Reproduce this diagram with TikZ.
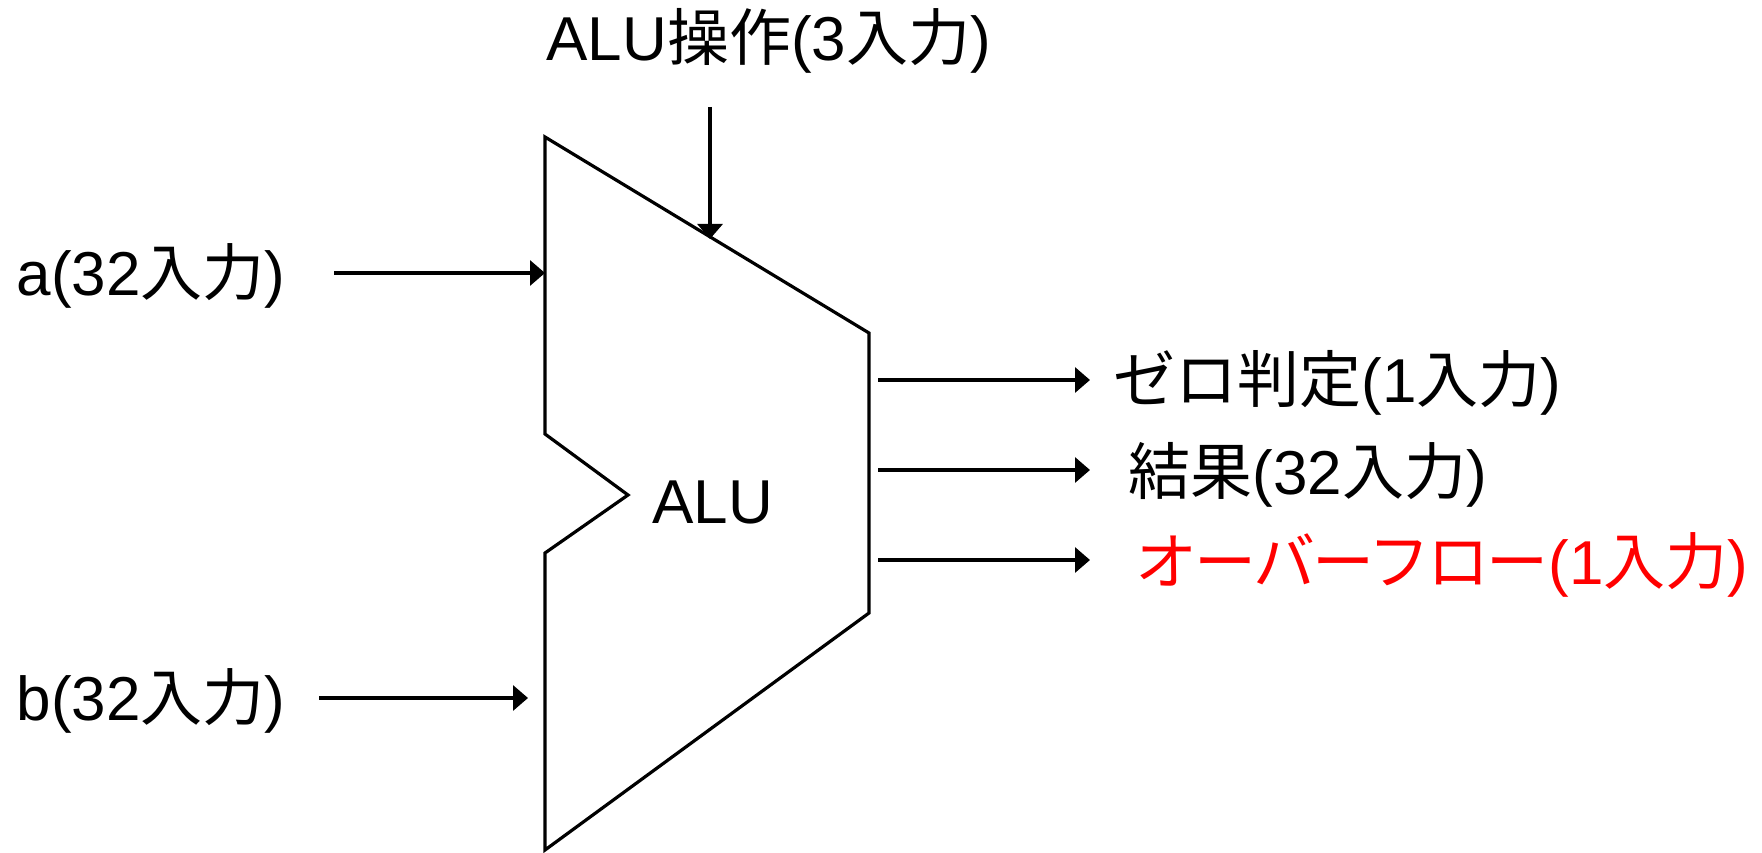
\documentclass[tikz,border=0pt]{standalone}
\usepackage{fontspec}
\setmainfont{Liberation Sans}
\newfontfamily\jp{Noto Sans CJK JP}
\newfontfamily\jpn[LetterSpace=-4.5]{Noto Sans CJK JP}
\usetikzlibrary{arrows.meta}
\begin{document}
\begin{tikzpicture}[x=1pt,y=-1pt,line width=3.2pt,
  conn/.style={-{Triangle[length=15pt,width=25pt]}},
  lbl/.style={anchor=base west,inner sep=0pt,font=\fontsize{62}{74}\selectfont}]
\useasboundingbox (0,0) rectangle (1762,853);
% ALU body
\coordinate (tl) at (545,137);
\coordinate (tr) at (869,333);
\coordinate (br) at (869,613);
\coordinate (bl) at (545,850);
\coordinate (nb) at (545,553);
\coordinate (nt) at (628,495);
\coordinate (nu) at (545,434);
\draw[line join=miter] (tl) -- (tr) -- (br) -- (bl) -- (nb) -- (nt) -- (nu) -- cycle;
\node[lbl] (alu) at (651,523) {ALU};
% labels
\node[lbl] (op) at (545,61) {ALU{\jp 操作}(3{\jp 入力})};
\node[lbl] (la) at (15,295) {a(32{\jp 入力})};
\node[lbl] (lb) at (15,720) {b(32{\jp 入力})};
\node[lbl] (zero) at (1112,402) {{\jp ゼロ判定}(1{\jp 入力})};
\node[lbl] (res) at (1127,494) {{\jp 結果}(32{\jp 入力})};
\node[lbl,text=red] (ovf) at (1134,584) {{\jpn オーバーフロー}(1{\jp 入力})};
% connectors
\coordinate (op0) at (710,107); \coordinate (op1) at (710,239);
\coordinate (a0) at (334,273); \coordinate (a1) at (545,273);
\coordinate (b0) at (319,698); \coordinate (b1) at (528,698);
\coordinate (z0) at (878,380); \coordinate (z1) at (1090,380);
\coordinate (r0) at (878,470); \coordinate (r1) at (1090,470);
\coordinate (o0) at (878,560); \coordinate (o1) at (1090,560);
\draw[conn] (op0) -- (op1);
\draw[conn] (a0) -- (a1);
\draw[conn] (b0) -- (b1);
\draw[conn] (z0) -- (z1);
\draw[conn] (r0) -- (r1);
\draw[conn] (o0) -- (o1);
\end{tikzpicture}
\end{document}
